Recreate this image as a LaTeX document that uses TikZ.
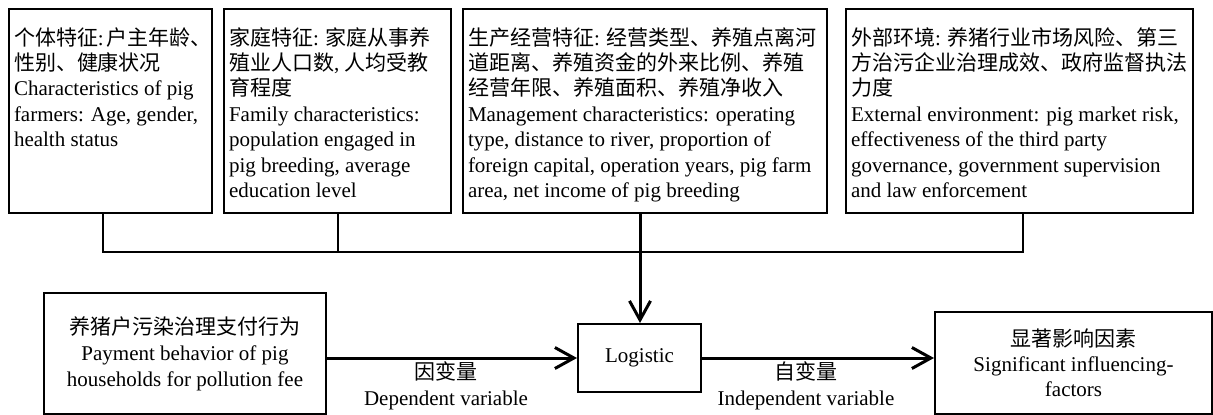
\documentclass[tikz,border=0pt]{standalone}
\usepackage{fontspec}
\setmainfont{Liberation Serif}
\newfontfamily\cjk{Noto Sans CJK SC}
\usetikzlibrary{arrows.meta,calc}
\begin{document}
\begin{tikzpicture}[x=1pt,y=-1pt,
  every node/.style={font=\fontsize{21}{25.5}\selectfont},
  topbox/.style={draw, line width=2pt, anchor=north west, inner xsep=5pt, inner ysep=0pt, text height=36pt, text depth=168pt},
  botbox/.style={draw, line width=2pt, align=center, inner sep=0pt},
  link/.style={line width=2pt},
  flow/.style={line width=3pt, -{Straight Barb[length=19pt,width=21pt]}},
  lbl/.style={align=center, inner sep=0pt}
]
\useasboundingbox (0,0) rectangle (1213,415);

\node[topbox] (b1) at (8,8) {\parbox[t]{193pt}{\raggedright
\mbox{{\cjk 个体特征}:\hspace{3pt}{\cjk 户主年龄、}}\\
{\cjk 性别、健康状况}\\
Characteristics of pig\\
farmers: Age, gender,\\
health status}};

\node[topbox] (b2) at (223,8) {\parbox[t]{217pt}{\raggedright
\mbox{{\cjk 家庭特征}: {\cjk 家庭从事养}}\\
\mbox{{\cjk 殖业人口数}, {\cjk 人均受教}}\\
{\cjk 育程度}\\
Family characteristics:\\
population engaged in\\
pig breeding, average\\
education level}};

\node[topbox] (b3) at (462,8) {\parbox[t]{354pt}{\raggedright
\mbox{{\cjk 生产经营特征}: {\cjk 经营类型、养殖点离河}}\\
{\cjk 道距离、养殖资金的外来比例、养殖}\\
{\cjk 经营年限、养殖面积、养殖净收入}\\
Management characteristics: operating\\
type, distance to river, proportion of\\
foreign capital, operation years, pig farm\\
area, net income of pig breeding}};

\node[topbox] (b4) at (845,8) {\parbox[t]{337pt}{\raggedright
\mbox{{\cjk 外部环境}: {\cjk 养猪行业市场风险、第三}}\\
\mbox{{\cjk 方治污企业治理成效、政府监督执法}}\\
{\cjk 力度}\\
External environment: pig market risk,\\
effectiveness of the third party\\
governance, government supervision\\
and law enforcement}};

\node[botbox, minimum width=282pt, minimum height=121pt, font=\fontsize{21}{26}\selectfont] (pay) at (185,353.5)
  {{\cjk 养猪户污染治理支付行为}\\Payment behavior of pig\\households for pollution fee};
\node[botbox, minimum width=123pt, minimum height=68pt] (lg) at (639.5,358) {Logistic};
\node[botbox, minimum width=277pt, minimum height=102pt, font=\fontsize{21}{25}\selectfont] (sig) at (1073.5,363)
  {{\cjk 显著影响因素}\\Significant influencing-\\factors};

\coordinate (d1) at ([xshift=-7.5pt]b1.south);
\coordinate (d2) at (b2.south);
\coordinate (d3) at ([xshift=-5pt]b3.south);
\coordinate (d4) at ([xshift=3.5pt]b4.south);
\coordinate (bar) at (0,252);

\draw[link] (d1) -- (d1 |- bar) -- (d4 |- bar) -- (d4);
\draw[link] (d2) -- (d2 |- bar);
\draw[flow] (d3) -- (d3 |- lg.north);

\draw[flow] (pay.east |- lg.west) -- (lg.west);
\draw[flow] (lg.east) -- (lg.east -| sig.west);

\node[lbl] (dv) at (446,386) {{\cjk 因变量}\\Dependent variable};
\node[lbl] (iv) at (806,386) {{\cjk 自变量}\\Independent variable};
\end{tikzpicture}
\end{document}
